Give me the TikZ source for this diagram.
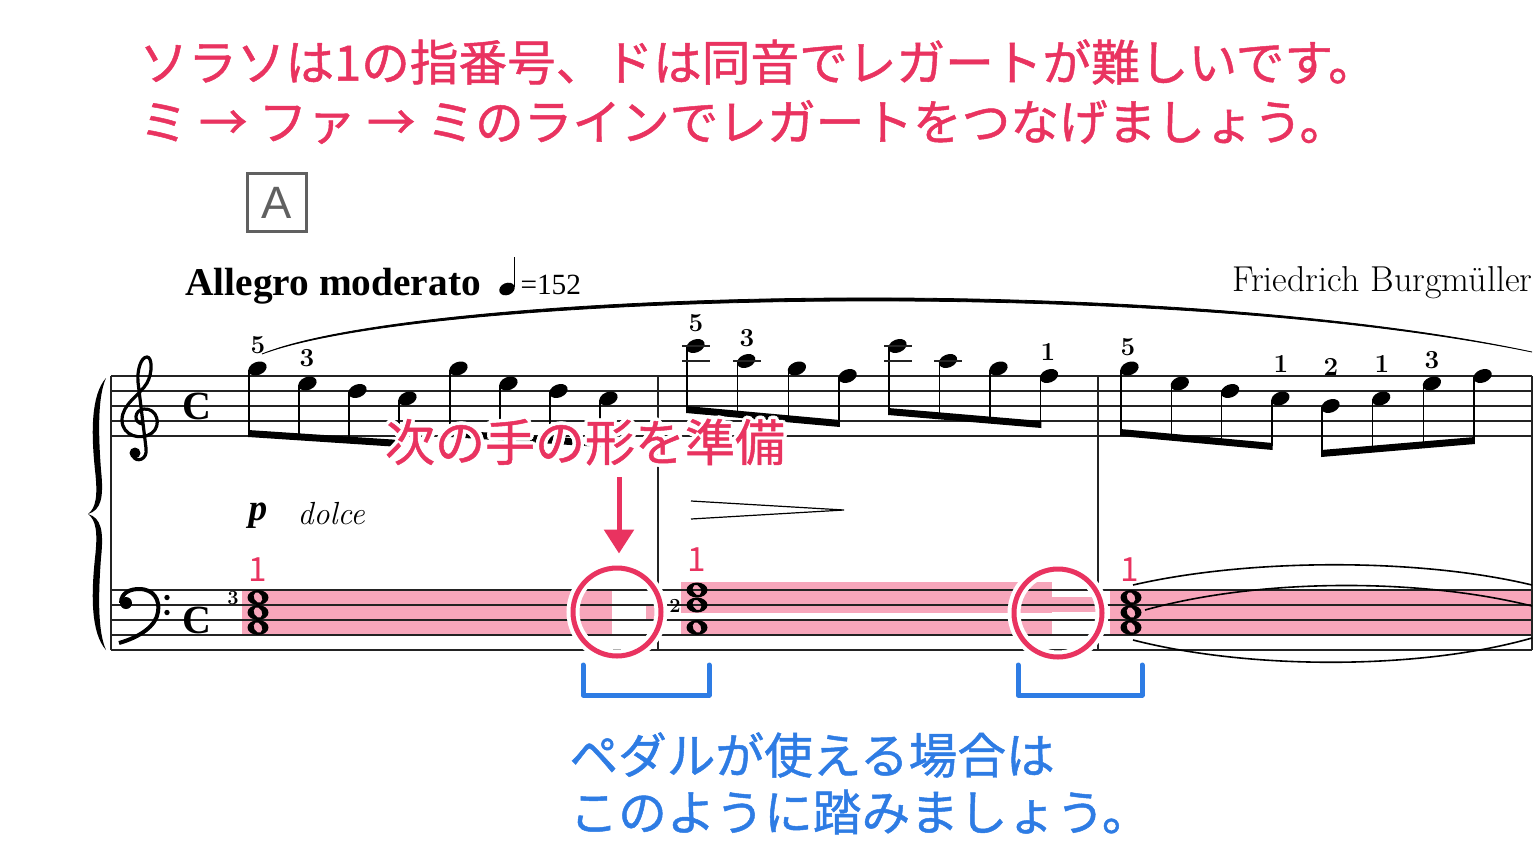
\documentclass[tikz,border=0pt]{standalone}
\usepackage{fontspec}
\usetikzlibrary{arrows.meta}
\newfontfamily\jpfont{Noto Sans CJK JP}[BoldFont={Noto Sans CJK JP}, BoldFeatures={FakeBold=1}]
\newfontfamily\timesfont{Liberation Serif}
\newfontfamily\arialfont{Liberation Sans}

\definecolor{crimson}{RGB}{233,51,96}
\definecolor{pedalpink}{RGB}{247,166,187}
\definecolor{pedalblue}{RGB}{46,124,228}
\definecolor{boxgray}{RGB}{96,96,96}
\definecolor{staffink}{RGB}{35,35,35}

\tikzset{every picture/.style={line width=0.75pt}}
\tikzset{
  staffline/.style={draw=staffink, line width=1.1pt},
  barline/.style={draw=staffink, line width=1.3pt},
  ledger/.style={draw=staffink, line width=1.5pt},
  stem/.style={line width=1.1pt},
  finger/.style={inner sep=0pt, font=\bfseries\fontsize{19.5}{20}\selectfont},
  smallfinger/.style={inner sep=0pt, font=\bfseries\fontsize{15}{16}\selectfont},
  redfinger/.style={inner sep=0pt, text=crimson, font=\jpfont\fontsize{25}{26}\selectfont},
  jpline/.style={inner sep=0pt, anchor=west, font=\jpfont\bfseries\fontsize{36.5}{40}\selectfont},
  prepnote/.style={inner sep=0pt, text=crimson, font=\jpfont\bfseries\fontsize{37.5}{40}\selectfont},
  ring/.style={circle, minimum size=66pt, inner sep=0pt, draw=crimson, line width=3.75pt,
    preaction={draw=white, line width=9.75pt}},
  pedal/.style={draw=pedalblue, line width=3.75pt, line cap=round, line join=round},
  tiearc/.style={line width=1.2pt},
}

% eighth notes under one beam: first stem x, stem spacing, beam y at first / last stem, head y's
\newcommand{\beamgroup}[5]{%
  \fill (#1-0.8,#3) -- ({#1+3*#2+0.8},#4) -- ({#1+3*#2+0.8},#4+7) -- (#1-0.8,#3+7) -- cycle;
  \foreach \hy [count=\k from 0] in {#5} {
    \draw[stem] ({#1+#2*\k},\hy+1) -- ({#1+#2*\k},{#3+(#4-#3)*\k/3+3});
    \fill[rotate around={-22:({#1+#2*\k+8.5},\hy)}] ({#1+#2*\k+8.5},\hy) ellipse (9.5 and 6.5);
  }}
% whole note head
\newcommand{\wnote}[2]{%
  \fill[even odd rule] (#1,#2) ellipse (10.5 and 7.5) {[rotate around={-30:(#1,#2)}] (#1,#2) ellipse (4 and 5.5)};}
% text with a white rim
\newcommand{\halotext}[4]{%
  \foreach \ang in {0,30,...,330}
    \node[#3, text=white] (#1-\ang) at ([shift={(\ang:3.5)}]#2) {#4};
  \node[#3] (#1) at (#2) {#4};}

\begin{document}
\begin{tikzpicture}[x=0.75pt,y=0.75pt,yscale=-1,xscale=1]
        \useasboundingbox (0,0) rectangle (1536,858);
        %Pedal shading
        \fill[pedalpink] (242,590) rectangle (612,635);
        \fill[pedalpink] (646,605) rectangle (662,620);
        \fill[pedalpink] (681,582) rectangle (1052,613);
        \fill[pedalpink] (681,620) rectangle (1052,635);
        \fill[pedalpink] (1052,597) rectangle (1102,612);
        \fill[pedalpink] (1110,590) rectangle (1532,635);
        %Staves and bar lines
        \foreach \ly in {376,391,...,436} \draw[staffline] (111,\ly) -- (1532,\ly);
        \foreach \ly in {590,605,...,650} \draw[staffline] (111,\ly) -- (1532,\ly);
        \foreach \bx in {111,658,1098,1532} \draw[barline] (\bx,376) -- (\bx,650);
        %Brace
        \fill (106,378) .. controls (91,395) and (91,432) .. (95,470) .. controls (98,496) and (96,508) .. (88,514)
          .. controls (96,520) and (98,532) .. (95,558) .. controls (91,596) and (91,633) .. (106,650)
          .. controls (98,632) and (98,598) .. (101,558) .. controls (104,530) and (101,518) .. (88,514)
          .. controls (101,510) and (104,498) .. (101,470) .. controls (98,430) and (98,396) .. (106,378);
        %Treble clef
        \draw[line width=2.4pt] (143,424) .. controls (133,423) and (134,410) .. (144,409)
          .. controls (157,408) and (162,425) .. (152,433)
          .. controls (141,441) and (122,436) .. (122,420)
          .. controls (122,404) and (140,395) .. (147,383)
          .. controls (153,372) and (152,357) .. (147,357)
          .. controls (141,357) and (137,370) .. (138,382)
          -- (146,448) .. controls (148,460) and (136,463) .. (133,456);
        \fill (135,453) circle (5.5);
        %Bass clef
        \draw[line width=3pt] (121,603) .. controls (121,592) and (131,589) .. (139,589)
          .. controls (154,589) and (160,600) .. (158,612) .. controls (156,626) and (140,637) .. (119,643);
        \fill (126,603) circle (6);
        \fill (167,597.5) circle (2.7);
        \fill (167,612.5) circle (2.7);
        % Text Node
        \node[inner sep=0pt, font=\timesfont\bfseries\fontsize{30}{30}\selectfont] (timeT) at (197,406) {C};
        % Text Node
        \node[inner sep=0pt, font=\timesfont\bfseries\fontsize{30}{30}\selectfont] (timeB) at (197,620) {C};
        %Slur
        \filldraw[line width=0.6pt] (262,354) .. controls (420,290) and (1150,270) .. (1532,352)
          .. controls (1150,274) and (420,294) .. (262,354);
        %Right hand
        \beamgroup{249}{50}{430}{440}{368.5,383.5,391,398.5}
        \beamgroup{450}{50}{430}{440}{368.5,383.5,391,398.5}
        \beamgroup{687}{50.7}{406}{420}{346,361,368.5,376}
        \beamgroup{889}{50.5}{408}{421}{346,361,368.5,376}
        \beamgroup{1121}{50.3}{429}{443}{368.5,383.5,391,398.5}
        \beamgroup{1322}{50.7}{450}{437}{406,398.5,383.5,376}
        \draw[ledger] (682,346) -- (710,346);
        \draw[ledger] (682,361) -- (710,361);
        \draw[ledger] (733,361) -- (761,361);
        \draw[ledger] (884,346) -- (912,346);
        \draw[ledger] (884,361) -- (912,361);
        \draw[ledger] (934,361) -- (962,361);
        %Fingering
        \node[finger] (fa1) at (258,345) {5};
        \node[finger] (fa2) at (307,358) {3};
        \node[finger] (fb1) at (696,323) {5};
        \node[finger] (fb2) at (747,338) {3};
        \node[finger] (fb3) at (1048,352) {1};
        \node[finger] (fc1) at (1128,347) {5};
        \node[finger] (fc2) at (1281,364) {1};
        \node[finger] (fc3) at (1331,367) {2};
        \node[finger] (fc4) at (1382,364) {1};
        \node[finger] (fc5) at (1432,360) {3};
        %Left hand
        \wnote{258}{597.5} \wnote{258}{612.5} \wnote{258}{627.5}
        \wnote{697}{590} \wnote{697}{605} \wnote{697}{627.5}
        \wnote{1131}{597.5} \wnote{1131}{612.5} \wnote{1131}{627.5}
        \node[smallfinger] (fl1) at (233,598) {3};
        \node[smallfinger] (fl2) at (675,606) {2};
        \node[redfinger] (rf1) at (258,570) {1};
        \node[redfinger] (rf2) at (697,560) {1};
        \node[redfinger] (rf3) at (1130,570) {1};
        %Ties
        \draw[tiearc] (1133,585) .. controls (1250,558) and (1420,558) .. (1532,585);
        \draw[tiearc] (1145,610) .. controls (1260,578) and (1420,578) .. (1532,606);
        \draw[tiearc] (1133,640) .. controls (1250,670) and (1420,670) .. (1532,638);
        %Dynamics
        \node[inner sep=0pt, anchor=base, font=\timesfont\bfseries\itshape\fontsize{28}{28}\selectfont] (dynP) at (258,520) {p};
        \node[inner sep=0pt, anchor=base west, font=\itshape\fontsize{24}{24}\selectfont] (dolce) at (297,524) {dolce};
        \draw[line width=0.9pt] (691,501) -- (844,510) -- (691,519);
        %Tempo and composer
        \node[inner sep=0pt, anchor=base west, font=\timesfont\bfseries\fontsize{29.5}{30}\selectfont] (tempo) at (185,295) {Allegro moderato};
        \fill[rotate around={-22:(507,289)}] (507,289) ellipse (8 and 6);
        \draw[line width=1.1pt] (514.5,287) -- (514.5,257);
        \node[inner sep=0pt, anchor=base west, font=\timesfont\fontsize{22}{22}\selectfont] (bpm) at (520,294) {=152};
        \node[inner sep=0pt, anchor=base east, font=\fontsize{27}{27}\selectfont] (composer) at (1533,291) {Friedrich Burgmüller};
        %Rehearsal mark
        \node[draw=boxgray, line width=2.25pt, minimum size=44pt, inner sep=0pt, text=boxgray,
          font=\arialfont\fontsize{34}{34}\selectfont] (markA) at (277,202.5) {A};
        % Text Node
        \node[jpline, text=crimson] (noteA) at (139,62) {ソラソは1の指番号、ドは同音でレガートが難しいです。};
        % Text Node
        \node[jpline, text=crimson] (noteB) at (139,122) {ミ → ファ → ミのラインでレガートをつなげましょう。};
        % Text Node
        \halotext{prep}{585,442}{prepnote}{次の手の形を準備}
        %Circles
        \node[ring] (circA) at (617,612) {};
        \node[ring] (circB) at (1058,613) {};
        \coordinate (arrowTail) at (619,477);
        \draw[crimson, line width=3.75pt, -{Triangle[length=18pt,width=22pt]}, shorten >=9pt] (arrowTail) -- (arrowTail |- circA.north);
        %Pedal brackets
        \coordinate (pedA1) at (583,665);
        \coordinate (pedA2) at (709,665);
        \coordinate (pedB1) at (1018,665);
        \coordinate (pedB2) at (1142,665);
        \draw[pedal] (pedA1) -- ++(0,30) -| (pedA2);
        \draw[pedal] (pedB1) -- ++(0,30) -| (pedB2);
        % Text Node
        \node[jpline, text=pedalblue] (pedTextA) at (569,755) {ペダルが使える場合は};
        % Text Node
        \node[jpline, text=pedalblue] (pedTextB) at (569,812) {このように踏みましょう。};
\end{tikzpicture}
\end{document}
